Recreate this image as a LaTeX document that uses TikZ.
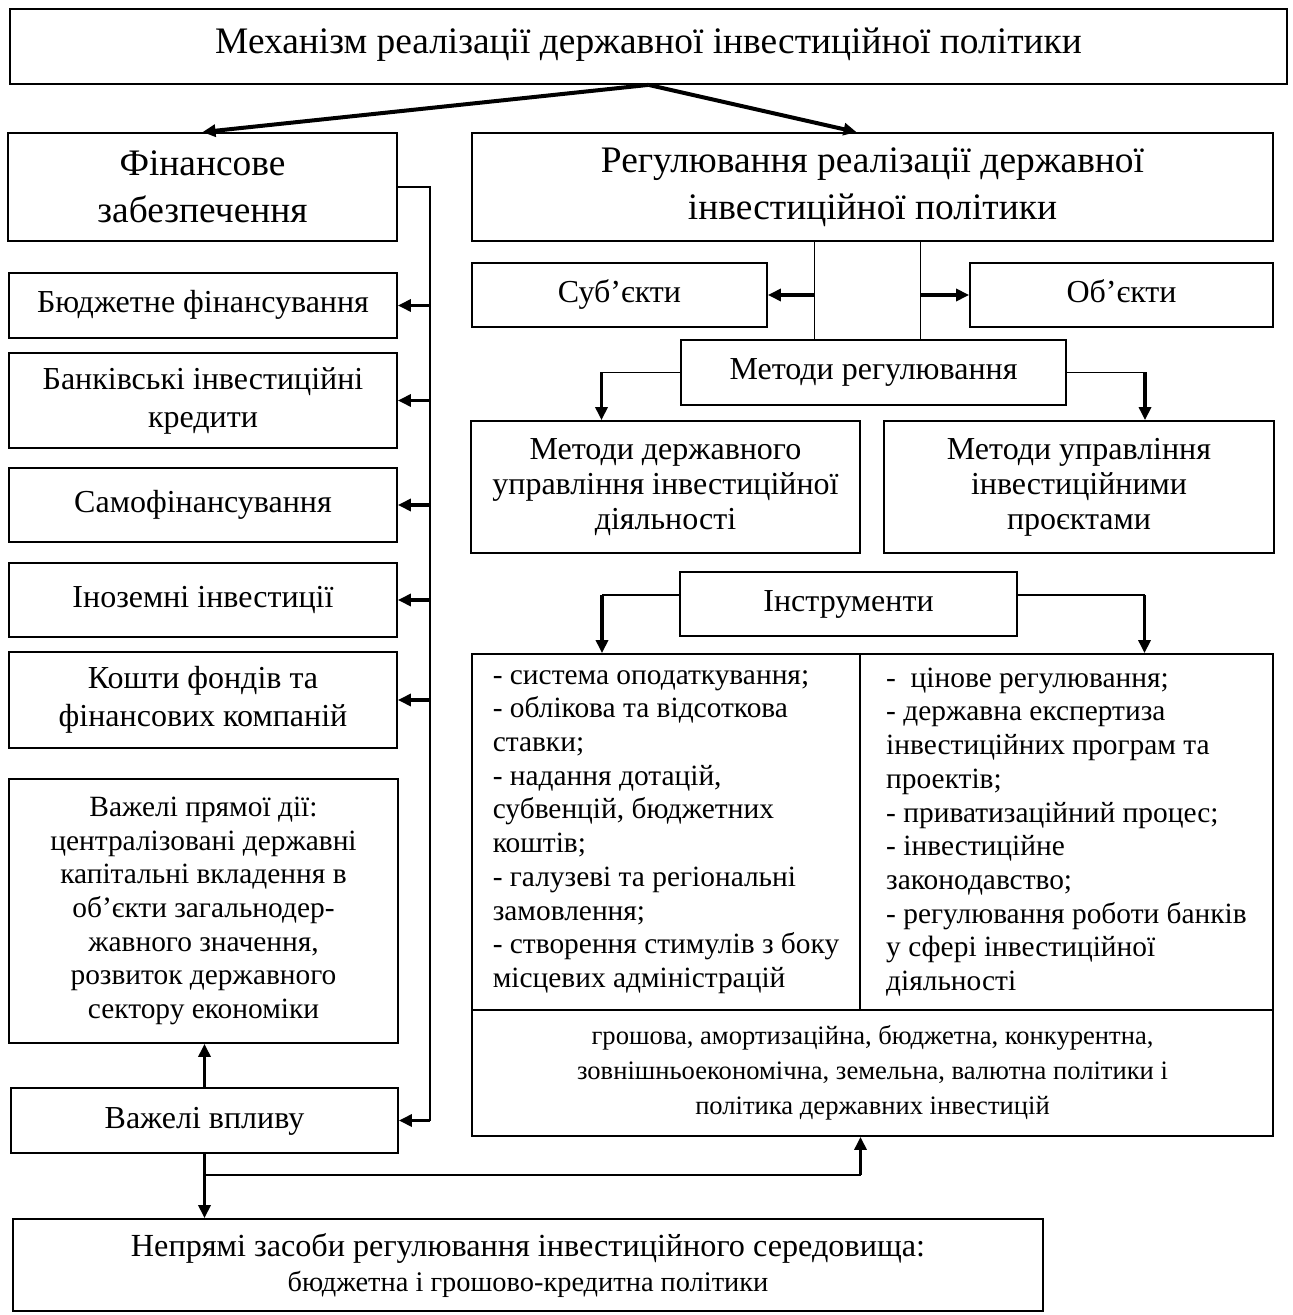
\documentclass[tikz,border=0pt]{standalone}
\usepackage{fontspec}
\setmainfont{Liberation Serif}
\usetikzlibrary{arrows.meta}

\begin{document}
\begin{tikzpicture}[
  x=0.5pt, y=-0.5pt,
  box/.style={draw, line width=0.9pt, inner sep=0pt, align=center},
  wh/.style 2 args={minimum width=#1, minimum height=#2},
  oneline/.style={text height=11pt, text depth=3.5pt},
  big/.style={font=\fontsize{18.7}{23.5}\selectfont},
  mid/.style={font=\fontsize{16}{19}\selectfont},
  small/.style={font=\fontsize{16}{17.5}\selectfont},
  body/.style={font=\fontsize{14.7}{16.85}\selectfont},
  conn/.style={line width=0.8pt},
  arr/.style={line width=1.6pt, -{Triangle[length=6.5pt,width=6pt]}},
  >={Stealth}
]
\useasboundingbox (0,0) rectangle (1292,1315);

% Nodes
\node[box, big, oneline, wh={638.5pt}{37.5pt}] (title) at (648.5,46.5) {Механізм реалізації державної інвестиційної політики};
\node[box, big, wh={194.5pt}{54pt}] (fin) at (202.5,187) {Фінансове\\забезпечення};
\node[box, big, wh={400.5pt}{54pt}] (reg) at (872.5,187) {Регулювання реалізації державної\\інвестиційної політики};

\node[box, mid, oneline, wh={194pt}{32.5pt}] (budget) at (203,305.5) {Бюджетне фінансування};
\node[box, mid, wh={194pt}{47.5pt}] (bank) at (203,400.5) {Банківські інвестиційні\\кредити};
\node[box, mid, oneline, wh={194pt}{37pt}] (self) at (203,505) {Самофінансування};
\node[box, mid, oneline, wh={194pt}{37pt}] (foreign) at (203,600) {Іноземні інвестиції};
\node[box, mid, wh={194pt}{48pt}] (funds) at (203,700) {Кошти фондів та\\фінансових компаній};
\node[box, body, wh={194.5pt}{132pt}] (direct) at (203.5,911) {Важелі прямої дії:\\централізовані державні\\капітальні вкладення в\\об’єкти загальнодер-\\жавного значення,\\розвиток державного\\сектору економіки};
\node[box, mid, oneline, wh={193.5pt}{32.5pt}] (lever) at (204.5,1120.5) {Важелі впливу};

\node[box, small, oneline, wh={147.5pt}{32pt}] (subj) at (619.5,295) {Суб’єкти};
\node[box, small, oneline, wh={151.5pt}{32pt}] (obj) at (1121.5,295) {Об’єкти};
\node[box, small, oneline, wh={192.5pt}{32.5pt}] (methods) at (873.5,372.5) {Методи регулювання};
\node[box, small, wh={194.5pt}{66pt}] (mstate) at (665.5,487) {Методи державного\\управління інвестиційної\\діяльності};
\node[box, small, wh={195pt}{66pt}] (mproj) at (1079,487) {Методи управління\\інвестиційними\\проєктами};
\node[box, small, oneline, wh={168.5pt}{32pt}] (instr) at (848.5,604) {Інструменти};

\node[box, body, align=left, wh={194pt}{178pt}] (toolL) at (666,832) {- система оподаткування;\\- облікова та відсоткова\\ставки;\\- надання дотацій,\\субвенцій, бюджетних\\коштів;\\- галузеві та регіональні\\замовлення;\\- створення стимулів з боку\\місцевих адміністрацій};
\node[box, body, align=left, wh={206.5pt}{178pt}] (toolR) at (1066.5,832) {-\ \ цінове регулювання;\\- державна експертиза\\інвестиційних програм та\\проектів;\\- приватизаційний процес;\\- інвестиційне\\законодавство;\\- регулювання роботи банків\\у сфері інвестиційної\\діяльності};
\node[box, wh={400.5pt}{63pt}, font=\fontsize{13.3}{17.5}\selectfont] (toolB) at (872.5,1073) {грошова, амортизаційна, бюджетна, конкурентна,\\зовнішньоекономічна, земельна, валютна політики і\\політика державних інвестицій};

\node[box, wh={515pt}{46pt}, font=\fontsize{16.1}{17.5}\selectfont] (indirect) at (528,1265) {Непрямі засоби регулювання інвестиційного середовища:\\{\fontsize{14.2}{17.5}\selectfont бюджетна і грошово-кредитна політики}};

% Connections
\draw[arr, line width=2pt] (title.south) -- (fin.north);
\draw[arr, line width=2pt] (title.south) -- ([xshift=-8pt]reg.north);

% financial sources bus
\draw[conn] (fin.east) -- ++(16pt,0) coordinate (bus) -- (bus |- lever.east);
\foreach \n in {budget, bank, self, foreign, funds, lever}
  \draw[arr] (bus |- \n.east) -- (\n.east);

% subjects, objects, methods
\draw[conn] ([xshift=-29pt]reg.south) coordinate (sl) -- (sl |- methods.north);
\draw[conn] ([xshift=24pt]reg.south) coordinate (sr) -- (sr |- methods.north);
\draw[arr] (sl |- subj.east) -- (subj.east);
\draw[arr] (sr |- obj.west) -- (obj.west);

\coordinate (ml) at ([xshift=-32pt]mstate.north);
\coordinate (mr) at ([xshift=33pt]mproj.north);
\draw[conn] (methods.west) -- (methods.west -| ml);
\draw[arr] (methods.west -| ml) -- (ml);
\draw[conn] (methods.east) -- (methods.east -| mr);
\draw[arr] (methods.east -| mr) -- (mr);

% instruments
\coordinate (il) at ([xshift=-32pt]toolL.north);
\coordinate (ir) at ([xshift=39pt]toolR.north);
\draw[conn] ([yshift=4.5pt]instr.west) -- ([yshift=4.5pt]instr.west -| il);
\draw[arr] ([yshift=4.5pt]instr.west -| il) -- (il);
\draw[conn] ([yshift=4.5pt]instr.east) -- ([yshift=4.5pt]instr.east -| ir);
\draw[arr] ([yshift=4.5pt]instr.east -| ir) -- (ir);

% levers
\draw[arr] (lever.north) -- (lever.north |- direct.south);
\draw[arr] (lever.south) -- (lever.south |- indirect.north);
\coordinate (fork) at ([yshift=-10.5pt]lever.south);
\coordinate (up) at ([xshift=-6pt]toolB.south);
\draw[conn] (fork) -- (fork -| up);
\draw[arr] (fork -| up) -- (up);

\end{tikzpicture}
\end{document}
